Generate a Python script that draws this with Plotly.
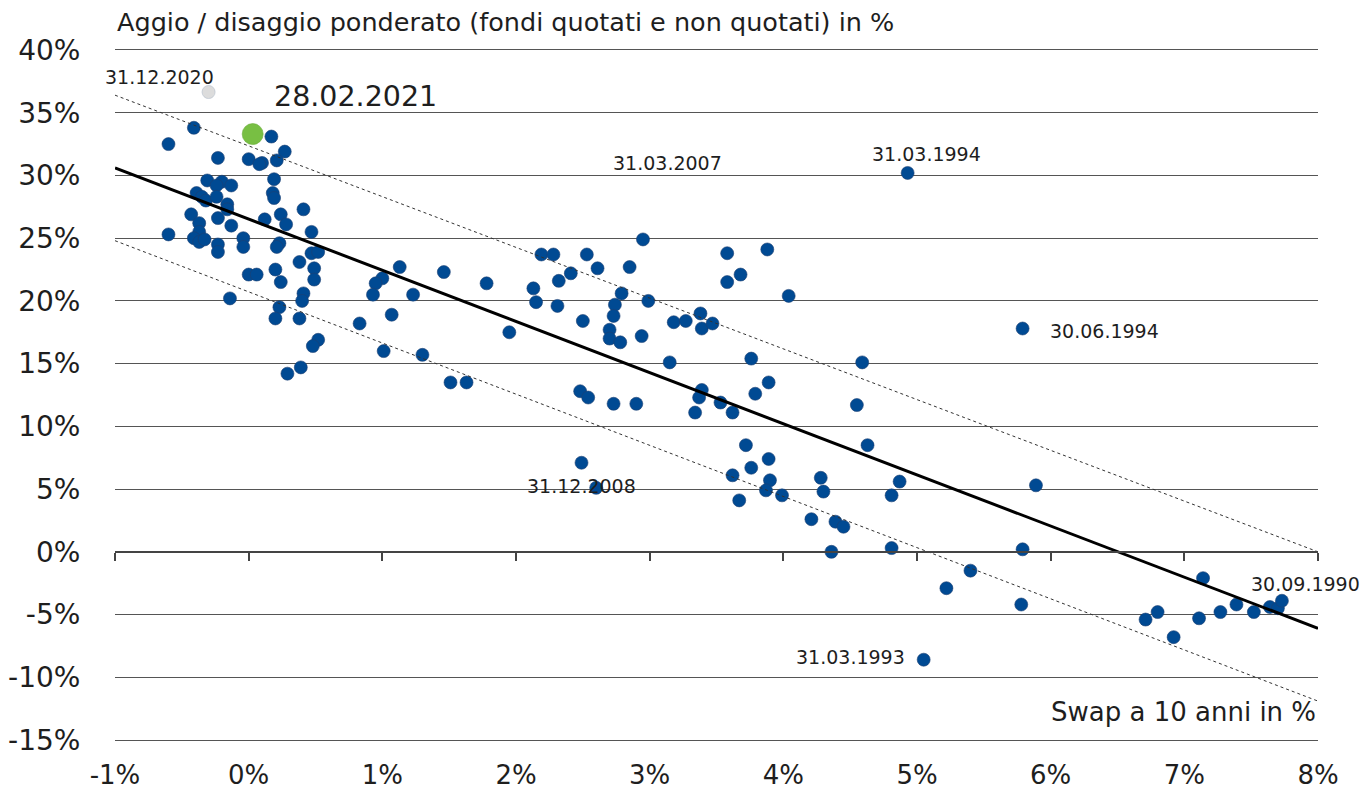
import plotly.graph_objects as go

# ---- data ----
swap_x = [
    -0.41, -0.60, 0.17, 0.27, -0.23, 0.00, 0.10, 0.08, 0.21, -0.31,
    -0.20, -0.24, -0.13, 0.19, -0.39, -0.35, -0.32, -0.24, 0.18, 0.19,
    -0.16, -0.16, -0.23, -0.43, -0.37, -0.37, -0.13, 0.12, 0.24, 0.28,
    0.41, 0.47, -0.60, -0.41, -0.37, -0.33, -0.23, -0.23, -0.04, -0.04,
    0.23, 0.21, 0.47, 0.52, 0.38, 0.20, 0.49, 0.00, 0.06, 0.49,
    0.24, 0.41, 0.40, -0.14, 0.23, 0.20, 0.38, 0.52, 0.48, 0.39,
    0.29, 2.95, 2.19, 2.28, 2.53, 2.61, 2.85, 2.41, 1.13, 1.46,
    1.00, 0.95, 0.93, 1.23, 1.78, 2.13, 2.32, 2.79, 2.15, 2.31,
    2.99, 2.74, 2.73, 0.83, 1.07, 2.50, 3.18, 1.95, 2.70, 2.70,
    2.78, 2.94, 1.01, 1.30, 3.15, 1.51, 1.63, 2.48, 2.54, 2.73,
    2.90, 4.04, 3.38, 3.27, 3.39, 3.47, 3.76, 4.59, 3.89, 3.79,
    3.39, 3.37, 3.53, 3.34, 3.62, 4.55, 3.72, 4.63, 3.89, 3.76,
    3.62, 3.90, 3.87, 3.99, 3.67, 4.28, 4.30, 4.87, 4.81, 4.21,
    4.39, 4.45, 4.36, 4.81, 5.79, 5.40, 5.22, 5.78, 5.05, 7.14,
    6.71, 6.80, 6.92, 7.11, 7.27, 7.39, 7.52, 7.64, 7.70, 7.73,
    4.93, 5.79, 5.89, 2.49, 2.60, 3.58, 3.88, 3.68, 3.58,
]
premium_y = [
    33.8, 32.5, 33.1, 31.9, 31.4, 31.3, 31.0, 30.9, 31.2, 29.6,
    29.5, 29.2, 29.2, 29.7, 28.6, 28.3, 28.0, 28.3, 28.6, 28.2,
    27.7, 27.3, 26.6, 26.9, 26.2, 25.5, 26.0, 26.5, 26.9, 26.1,
    27.3, 25.5, 25.3, 25.0, 24.7, 24.9, 24.5, 23.9, 25.0, 24.3,
    24.6, 24.3, 23.8, 23.9, 23.1, 22.5, 22.6, 22.1, 22.1, 21.7,
    21.5, 20.6, 20.0, 20.2, 19.5, 18.6, 18.6, 16.9, 16.4, 14.7,
    14.2, 24.9, 23.7, 23.7, 23.7, 22.6, 22.7, 22.2, 22.7, 22.3,
    21.8, 21.4, 20.5, 20.5, 21.4, 21.0, 21.6, 20.6, 19.9, 19.6,
    20.0, 19.7, 18.8, 18.2, 18.9, 18.4, 18.3, 17.5, 17.7, 17.0,
    16.7, 17.2, 16.0, 15.7, 15.1, 13.5, 13.5, 12.8, 12.3, 11.8,
    11.8, 20.4, 19.0, 18.4, 17.8, 18.2, 15.4, 15.1, 13.5, 12.6,
    12.9, 12.3, 11.9, 11.1, 11.1, 11.7, 8.5, 8.5, 7.4, 6.7,
    6.1, 5.7, 4.9, 4.5, 4.1, 5.9, 4.8, 5.6, 4.5, 2.6,
    2.4, 2.0, 0.0, 0.3, 0.2, -1.5, -2.9, -4.2, -8.6, -2.1,
    -5.4, -4.8, -6.8, -5.3, -4.8, -4.2, -4.8, -4.4, -4.5, -3.9,
    30.2, 17.8, 5.3, 7.1, 5.1, 23.8, 24.1, 22.1, 21.5,
]

# highlighted observations
prev_x, prev_y = [-0.30], [36.65]      # 31.12.2020
curr_x, curr_y = [0.03], [33.3]        # 28.02.2021

# regression line and band (end points)
fit_x = [-1.0, 8.0]
fit_y = [30.6, -6.1]
upper_y = [36.4, 0.0]
lower_y = [24.8, -11.9]

# labels
date_labels = ["31.12.2020", "31.03.2007", "31.03.1994", "30.06.1994",
               "31.12.2008", "31.03.1993", "30.09.1990"]
date_label_x = [-0.67, 3.13, 5.07, 6.40, 2.49, 4.50, 7.91]
date_label_y = [37.85, 31.0, 31.7, 17.6, 5.25, -8.4, -2.57]
current_label = "28.02.2021"
current_label_x, current_label_y = 0.80, 36.33

x_ticks = list(range(-1, 9))
x_ticktext = [f"{v}%" for v in x_ticks]
y_ticks = list(range(-15, 41, 5))
y_ticktext = [f"{v}%" for v in y_ticks]

title_text = "Aggio / disaggio ponderato (fondi quotati e non quotati) in %"
x_title = "Swap a 10 anni in %"

FONT = "DejaVu Sans"
TXT = "#1e1e1e"
BLUE = "#004a93"
GRID = "#555555"

fig = go.Figure()

fig.add_trace(go.Scatter(x=fit_x, y=upper_y, mode="lines", xaxis="x2",
                         line=dict(color="#333333", width=1, dash="dot"),
                         hoverinfo="skip", showlegend=False))
fig.add_trace(go.Scatter(x=fit_x, y=lower_y, mode="lines", xaxis="x2",
                         line=dict(color="#333333", width=1, dash="dot"),
                         hoverinfo="skip", showlegend=False))
fig.add_trace(go.Scatter(x=fit_x, y=fit_y, mode="lines", xaxis="x2",
                         line=dict(color="#000000", width=3),
                         hoverinfo="skip", showlegend=False))
fig.add_trace(go.Scatter(x=swap_x, y=premium_y, mode="markers",
                         marker=dict(size=13, color=BLUE,
                                     line=dict(color="#1c3f72", width=0.6)),
                         showlegend=False))
fig.add_trace(go.Scatter(x=prev_x, y=prev_y, mode="markers",
                         marker=dict(size=13, color="#dcdcdc",
                                     line=dict(color="#bfc6d0", width=0.8)),
                         showlegend=False))
fig.add_trace(go.Scatter(x=curr_x, y=curr_y, mode="markers",
                         marker=dict(size=21, color="#78bf43",
                                     line=dict(color="#6aad3a", width=0.6)),
                         showlegend=False))

annotations = []
for t, ax_, ay_ in zip(date_labels, date_label_x, date_label_y):
    annotations.append(dict(x=ax_, y=ay_, xref="x", yref="y", text=t,
                            showarrow=False, xanchor="center", yanchor="middle",
                            font=dict(family=FONT, size=19, color=TXT)))
annotations.append(dict(x=current_label_x, y=current_label_y, xref="x", yref="y",
                        text=current_label, showarrow=False,
                        xanchor="center", yanchor="middle",
                        font=dict(family=FONT, size=28.5, color=TXT)))
annotations.append(dict(x=1.0, y=-12.8, xref="paper", yref="y", text=x_title,
                        showarrow=False, xanchor="right", yanchor="middle",
                        font=dict(family=FONT, size=26, color=TXT)))
annotations.append(dict(x=0.0, y=1.0406, xref="paper", yref="paper", text=title_text,
                        showarrow=False, xanchor="left", yanchor="middle",
                        font=dict(family=FONT, size=25.5, color=TXT)))

fig.update_layout(
    width=1361, height=792,
    margin=dict(l=115, r=43, t=50, b=52, autoexpand=False),
    paper_bgcolor="white", plot_bgcolor="white",
    annotations=annotations,
    xaxis=dict(range=[-1, 8], tickvals=x_ticks, ticktext=x_ticktext,
               automargin=False,
               showgrid=False, zeroline=False,
               showline=True, mirror=True, linecolor=GRID, linewidth=1,
               ticks="outside", ticklen=12, tickcolor="rgba(0,0,0,0)",
               tickfont=dict(family=FONT, size=26, color=TXT)),
    xaxis2=dict(range=[-1, 8], overlaying="x", anchor="free", position=3 / 11,
                automargin=False,
                tickvals=x_ticks, showticklabels=False, showgrid=False,
                zeroline=False, showline=True, linecolor="#444444", linewidth=1.5,
                ticks="outside", ticklen=8, tickcolor="#444444", tickwidth=1.5,
                side="bottom"),
    yaxis=dict(range=[-15, 40], tickvals=y_ticks, ticktext=y_ticktext,
               automargin=False,
               showgrid=True, gridcolor=GRID, gridwidth=1,
               zeroline=False, showline=False,
               ticks="outside", ticklen=28, tickcolor="rgba(0,0,0,0)",
               tickfont=dict(family=FONT, size=28, color=TXT)),
)

fig.write_html("out.html", config={"displayModeBar": False},
               post_script="document.body.style.margin='0';document.body.style.overflow='hidden';")
